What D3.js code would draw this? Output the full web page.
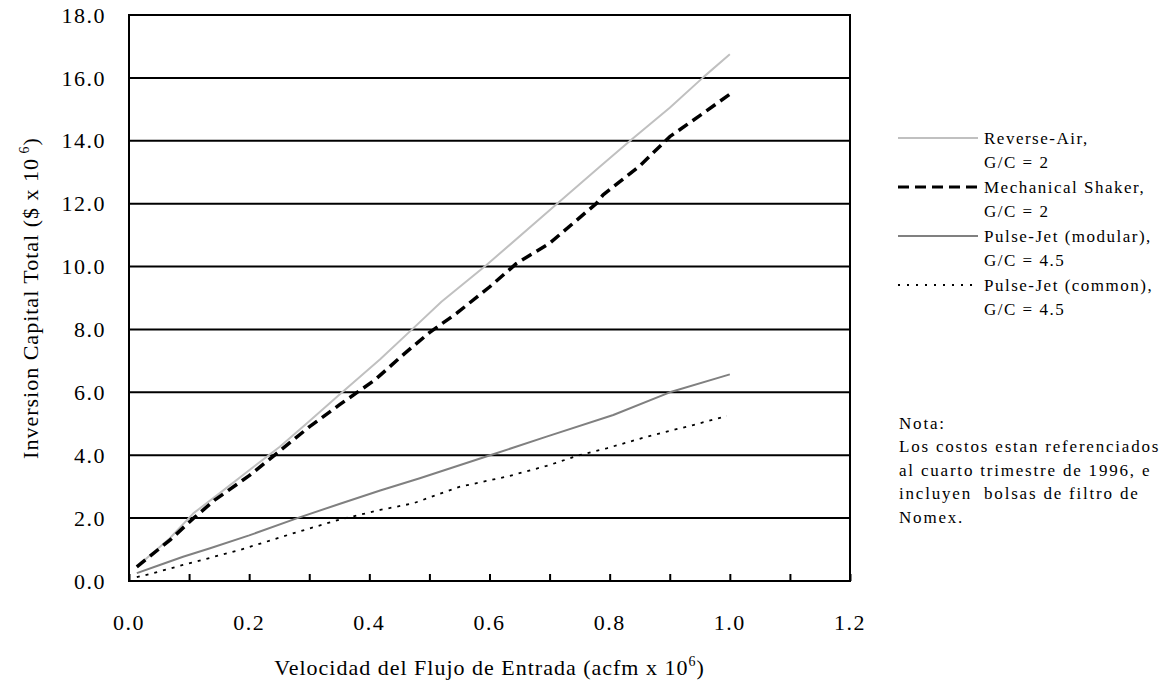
<!DOCTYPE html>
<html>
<head>
<meta charset="utf-8">
<script src="https://cdn.jsdelivr.net/npm/d3@7"></script>
<style>
  html, body { margin: 0; padding: 0; background: #fff; }
  svg { display: block; }
  text { font-family: "Liberation Serif", "Times New Roman", serif; fill: #000; }
</style>
</head>
<body>
<svg id="chart" width="1169" height="684"></svg>
<script>
// Total capital investment vs inlet flow rate, four baghouse types
const reverseAirX = [0.013, 0.068, 0.107, 0.15, 0.2, 0.251, 0.3, 0.35, 0.418, 0.476, 0.52, 0.595, 0.7, 0.784, 0.834, 0.9, 0.957, 1.0];
const reverseAirY = [0.45, 1.36, 2.15, 2.78, 3.52, 4.27, 5.08, 5.92, 7.05, 8.09, 8.88, 10.05, 11.79, 13.18, 14.0, 15.05, 16.04, 16.75];

const shakerX = [0.013, 0.068, 0.107, 0.143, 0.2, 0.246, 0.3, 0.35, 0.409, 0.459, 0.5, 0.545, 0.6, 0.645, 0.7, 0.778, 0.789, 0.85, 0.9, 0.95, 1.0];
const shakerY = [0.45, 1.30, 1.99, 2.58, 3.35, 4.06, 4.9, 5.6, 6.39, 7.24, 7.9, 8.51, 9.35, 10.1, 10.74, 12.01, 12.28, 13.2, 14.13, 14.8, 15.48];

const pjModularX = [0.013, 0.05, 0.09, 0.135, 0.2, 0.279, 0.35, 0.418, 0.484, 0.601, 0.695, 0.806, 0.9, 1.0];
const pjModularY = [0.25, 0.5, 0.77, 1.04, 1.45, 1.99, 2.45, 2.88, 3.27, 4.0, 4.59, 5.28, 6.0, 6.57];

const pjCommonX = [0.013, 0.05, 0.09, 0.185, 0.279, 0.35, 0.418, 0.473, 0.551, 0.629, 0.695, 0.751, 0.795, 0.862, 0.939, 0.995];
const pjCommonY = [0.12, 0.3, 0.51, 0.99, 1.55, 1.95, 2.26, 2.47, 3.0, 3.32, 3.66, 4.01, 4.22, 4.59, 4.96, 5.25];

const xTickLabels = ["0.0", "0.2", "0.4", "0.6", "0.8", "1.0", "1.2"];
const yTickLabels = ["0.0", "2.0", "4.0", "6.0", "8.0", "10.0", "12.0", "14.0", "16.0", "18.0"];

const seriesNames = [["Reverse-Air,", "G/C = 2"], ["Mechanical Shaker,", "G/C = 2"],
                     ["Pulse-Jet (modular),", "G/C = 4.5"], ["Pulse-Jet (common),", "G/C = 4.5"]];
const noteLines = ["Nota:", "Los costos estan referenciados", "al cuarto trimestre de 1996, e",
                   "incluyen  bolsas de filtro de", "Nomex."];

const styles = [
  { stroke: "#c0c0c0", width: 2, dash: null },
  { stroke: "#000000", width: 3.5, dash: "11,6" },
  { stroke: "#808080", width: 2, dash: null },
  { stroke: "#000000", width: 1.8, dash: "3,6" }
];
const legendDash = [null, "11,6", null, "2,7"];

const series = [
  d3.zip(reverseAirX, reverseAirY),
  d3.zip(shakerX, shakerY),
  d3.zip(pjModularX, pjModularY),
  d3.zip(pjCommonX, pjCommonY)
];

const svg = d3.select("#chart");
const plot = { left: 129, right: 850, top: 15, bottom: 581 };

const x = d3.scaleLinear().domain([0, 1.2]).range([plot.left, plot.right]);
const y = d3.scaleLinear().domain([0, 18]).range([plot.bottom, plot.top]);

// horizontal gridlines
svg.append("g")
  .selectAll("line")
  .data(yTickLabels.map(Number).filter(v => v > 0 && v < 18))
  .join("line")
  .attr("x1", plot.left).attr("x2", plot.right)
  .attr("y1", d => y(d)).attr("y2", d => y(d))
  .attr("stroke", "#000").attr("stroke-width", 2);

// x ticks pointing into the plot
const xAxis = d3.axisBottom(x)
  .tickValues(d3.range(0, 13).map(i => i / 10))
  .tickSizeInner(-7).tickSizeOuter(0)
  .tickFormat("");
const gx = svg.append("g").attr("transform", `translate(0,${plot.bottom})`).call(xAxis);
gx.select(".domain").remove();
gx.selectAll(".tick line").attr("stroke", "#000").attr("stroke-width", 2);

// x tick labels
svg.append("g")
  .selectAll("text")
  .data(xTickLabels)
  .join("text")
  .attr("x", d => x(+d))
  .attr("y", 630)
  .attr("text-anchor", "middle")
  .style("font-size", "22px")
  .style("letter-spacing", "1.5px")
  .text(d => d);

// y tick labels
svg.append("g")
  .selectAll("text")
  .data(yTickLabels)
  .join("text")
  .attr("x", 106)
  .attr("y", d => y(+d))
  .attr("dy", "0.35em")
  .attr("text-anchor", "end")
  .style("font-size", "22px")
  .style("letter-spacing", "1.5px")
  .text(d => d);

// series lines
const line = d3.line().x(d => x(d[0])).y(d => y(d[1]));
svg.append("g")
  .selectAll("path")
  .data(series)
  .join("path")
  .attr("d", line)
  .attr("fill", "none")
  .attr("stroke", (d, i) => styles[i].stroke)
  .attr("stroke-width", (d, i) => styles[i].width)
  .attr("stroke-dasharray", (d, i) => styles[i].dash)
  .attr("stroke-linejoin", "round");

// plot frame
svg.append("rect")
  .attr("x", plot.left).attr("y", plot.top)
  .attr("width", plot.right - plot.left).attr("height", plot.bottom - plot.top)
  .attr("fill", "none").attr("stroke", "#000").attr("stroke-width", 2);

// axis titles
const xTitle = svg.append("text")
  .attr("x", (plot.left + plot.right) / 2)
  .attr("y", 675)
  .attr("text-anchor", "middle")
  .style("font-size", "22px")
  .style("letter-spacing", "1px");
xTitle.append("tspan").text("Velocidad del Flujo de Entrada (acfm x 10");
xTitle.append("tspan").attr("dy", -9).style("font-size", "14px").text("6");
xTitle.append("tspan").attr("dy", 9).text(")");

const yTitle = svg.append("text")
  .attr("transform", `translate(38,${(plot.top + plot.bottom) / 2}) rotate(-90)`)
  .attr("text-anchor", "middle")
  .style("font-size", "22px")
  .style("letter-spacing", "1px");
yTitle.append("tspan").text("Inversion Capital Total ($ x 10");
yTitle.append("tspan").attr("dy", -9).style("font-size", "14px").text(" 6");
yTitle.append("tspan").attr("dy", 9).text(")");

// legend
const legendRow = 24.5;
const legend = svg.append("g");
seriesNames.forEach((lines, i) => {
  const y0 = 138 + i * 2 * legendRow;
  legend.append("line")
    .attr("x1", 898).attr("x2", 978)
    .attr("y1", y0).attr("y2", y0)
    .attr("stroke", styles[i].stroke)
    .attr("stroke-width", i === 1 ? 3 : 2)
    .attr("stroke-dasharray", legendDash[i]);
  lines.forEach((t, j) => {
    legend.append("text")
      .attr("x", 984)
      .attr("y", y0 + j * legendRow)
      .attr("dy", "0.35em")
      .style("font-size", "17px")
      .style("letter-spacing", "1.5px")
      .text(t);
  });
});

// note
svg.append("g")
  .selectAll("text")
  .data(noteLines)
  .join("text")
  .attr("x", 899)
  .attr("y", (d, i) => 423 + i * 23.5)
  .attr("dy", "0.35em")
  .style("font-size", "17px")
  .style("letter-spacing", "1.8px")
  .style("white-space", "pre")
  .text(d => d);
</script>
</body>
</html>
